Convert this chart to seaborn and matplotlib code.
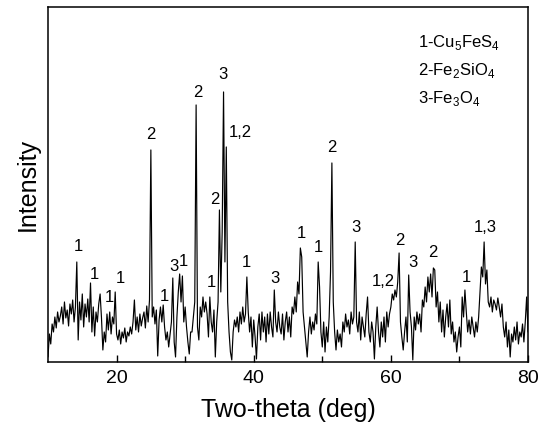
import numpy as np
import pandas as pd
import seaborn as sns
import matplotlib.pyplot as plt

# XRD scan, 10-80 deg, 0.2 deg step
two_theta = np.round(np.arange(10, 80.01, 0.2), 1)
intensity = [
    5, 28, 18, 38, 30, 45, 34, 50, 40, 46,        # 10.0 - 11.8
    55, 38, 60, 44, 52, 36, 58, 48, 62, 40,       # 12.0
    55, 100, 22, 60, 42, 68, 35, 58, 45, 63,      # 14.0
    40, 79, 30, 55, 26, 50, 40, 58, 68, 44,       # 16.0
    12, 30, 20, 48, 32, 50, 28, 45, 38, 70,       # 18.0
    28, 22, 32, 18, 30, 24, 34, 20, 30, 26,       # 20.0
    35, 28, 40, 62, 32, 45, 30, 48, 36, 44,       # 22.0
    50, 34, 56, 40, 62, 212, 45, 55, 38, 52,      # 24.0
    6, 42, 55, 40, 57, 35, 22, 30, 15, 28,        # 26.0
    40, 84, 20, 5, 45, 70, 88, 60, 86, 40,        # 28.0
    55, 35, 20, 8, 30, 30, 45, 60, 257, 35,       # 30.0
    22, 55, 45, 65, 50, 60, 48, 25, 65, 40,       # 32.0
    30, 52, 5, 40, 60, 152, 70, 130, 270, 100,    # 34.0
    215, 60, 30, 10, 2, 30, 42, 35, 45, 30,       # 36.0
    50, 38, 55, 40, 48, 85, 50, 30, 45, 15,       # 38.0
    42, 25, 3, 35, 48, 22, 50, 30, 45, 20,        # 40.0
    48, 28, 50, 35, 25, 72, 40, 30, 50, 35,       # 42.0
    28, 48, 22, 40, 50, 30, 45, 25, 55, 48,       # 44.0
    65, 50, 80, 68, 114, 105, 50, 35, 20, 5,      # 46.0
    30, 45, 28, 40, 32, 48, 38, 100, 75, 30,      # 48.0
    15, 40, 10, 35, 20, 45, 90, 199, 60, 30,      # 50.0
    12, 32, 20, 28, 15, 40, 30, 48, 35, 42,       # 52.0
    28, 50, 38, 45, 120, 40, 30, 50, 22, 45,      # 54.0
    35, 25, 48, 65, 30, 20, 40, 30, 3, 35,        # 56.0
    55, 30, 15, 40, 25, 45, 20, 50, 35, 48,       # 58.0
    55, 68, 62, 72, 65, 80, 109, 40, 25, 12,      # 60.0
    30, 45, 20, 87, 50, 35, 2, 45, 32, 50,        # 62.0
    38, 48, 30, 62, 55, 75, 60, 85, 70, 88,       # 64.0
    65, 94, 92, 55, 70, 40, 60, 30, 52, 25,       # 66.0
    45, 58, 35, 62, 28, 40, 20, 30, 10, 25,       # 68.0
    35, 15, 65, 45, 72, 50, 30, 42, 28, 45,       # 70.0
    35, 25, 40, 30, 45, 70, 95, 85, 120, 78,      # 72.0
    92, 60, 55, 65, 50, 62, 58, 52, 64, 55,       # 74.0
    45, 58, 35, 25, 40, 15, 32, 5, 28, 20,        # 76.0
    35, 22, 40, 18, 30, 25, 38, 20, 40, 65,       # 78.0
    30,                                           # 80.0
]

# phase labels over the peaks
label_text = ['1', '1', '1', '1', '2', '1', '3', '1', '2', '1', '2', '3', '1,2',
              '1', '3', '1', '1', '2', '3', '1,2', '2', '3', '2', '1', '1,3']
label_x = [14.4, 16.7, 19.0, 20.5, 25.0, 26.9, 28.4, 29.8, 31.9, 33.8, 34.35, 35.5, 38.0,
           39.0, 43.1, 46.9, 49.4, 51.4, 54.9, 58.85, 61.3, 63.2, 66.15, 71.0, 73.7]
label_y = [115, 87, 64, 83, 227, 65, 95, 100, 269, 79, 162, 287, 229,
           99, 83, 128, 114, 214, 134, 80, 121, 99, 109, 84, 134]

phases = [r'1-Cu$_\mathrm{5}$FeS$_\mathrm{4}$',
          r'2-Fe$_\mathrm{2}$SiO$_\mathrm{4}$',
          r'3-Fe$_\mathrm{3}$O$_\mathrm{4}$']

df = pd.DataFrame({'two_theta': two_theta, 'intensity': intensity})

sns.set_style('ticks')
plt.rcParams['font.family'] = ['Liberation Sans', 'DejaVu Sans']
plt.rcParams['mathtext.fontset'] = 'custom'
plt.rcParams['mathtext.rm'] = 'Liberation Sans'
plt.rcParams['text.color'] = 'black'
plt.rcParams['axes.labelcolor'] = 'black'
plt.rcParams['axes.edgecolor'] = 'black'
plt.rcParams['xtick.color'] = 'black'

fig = plt.figure(figsize=(5.43, 4.33), dpi=100)
ax = fig.add_axes([0.0884, 0.164, 0.884, 0.820])

sns.lineplot(data=df, x='two_theta', y='intensity', color='black', lw=0.85, ax=ax)

for t, x, y in zip(label_text, label_x, label_y):
    ax.text(x, y, t, ha='center', va='center', fontsize=12)

for i, p in enumerate(phases):
    ax.text(64.0, 315 - 28 * i, p, ha='left', va='baseline', fontsize=12)

ax.set_xlim(10, 80)
ax.set_ylim(0, 355)
ax.set_xticks([20, 40, 60, 80])
ax.set_xticks([30, 50, 70], minor=True)
ax.set_yticks([])
ax.tick_params(axis='x', which='both', direction='in', labelsize=14, pad=6)
ax.tick_params(axis='x', which='major', length=5, width=1)
ax.tick_params(axis='x', which='minor', length=4, width=1)
ax.set_xlabel('Two-theta (deg)', fontsize=18, labelpad=8)
ax.set_ylabel('Intensity', fontsize=18, labelpad=6)
for s in ax.spines.values():
    s.set_linewidth(1.1)

fig.savefig('out.png', dpi=100)
